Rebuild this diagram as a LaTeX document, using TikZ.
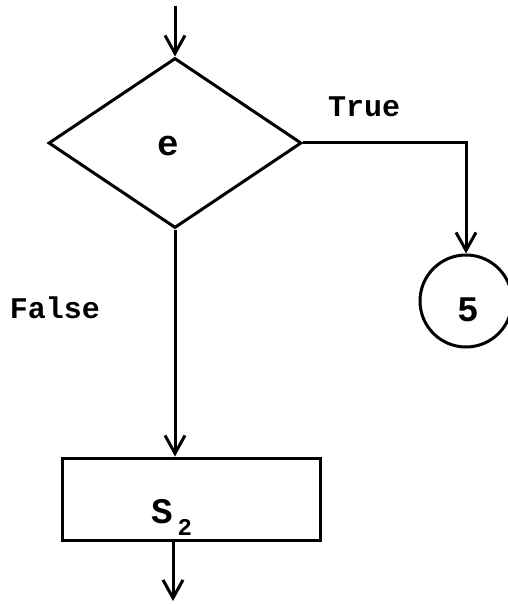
\documentclass[tikz,border=0pt]{standalone}
\usepackage{fontspec}
\setmainfont{Liberation Mono}
\usetikzlibrary{shapes.geometric,arrows.meta,positioning,calc}

\begin{document}
\begin{tikzpicture}[x=1pt, y=-1pt, line width=3pt, font=\bfseries\fontsize{30}{32}\selectfont]
    \tikzstyle{test} = [draw, diamond, aspect=1.49, minimum width=253pt, minimum height=170pt, inner sep=0pt]
    \tikzstyle{stmt} = [draw, rectangle, minimum width=258pt, minimum height=82pt, inner sep=0pt]
    \tikzstyle{label} = [draw, circle, minimum size=92pt, inner sep=0pt]
    \tikzstyle{big} = [font=\bfseries\fontsize{36}{38}\selectfont]
    \tikzstyle{flow} = [-{Straight Barb[length=18pt, width=20pt, line width=3pt]}]
    \useasboundingbox (0,0) rectangle (507,604);

    \node [test] (d) at (175,143) {};
    \node [big, anchor=base] (e) at (168,156) {e};
    \node [label] (c) at (466,301) {};
    \node [big, anchor=base] (five) at (468,321) {5};
    \node [stmt] (s2) at (191,499) {};
    \node [big, anchor=base west, inner sep=0pt] (sname) at (150,523) {S};
    \node [anchor=north west, inner sep=0pt, font=\bfseries\fontsize{24}{26}\selectfont] (sidx) at (176,518) {2};
    \node [anchor=base] (t) at (364,117) {True};
    \node [anchor=base] (f) at (55,318) {False};

    \coordinate (in) at (175,6);
    \coordinate (out) at (173,601);

    \draw [flow] (in) -- (d.north);
    \draw [flow] (d.east) -| (c.north);
    \draw [flow] (d.south) -- (d.south |- s2.north);
    \draw [flow] (s2.south -| out) -- (out);
\end{tikzpicture}
\end{document}
